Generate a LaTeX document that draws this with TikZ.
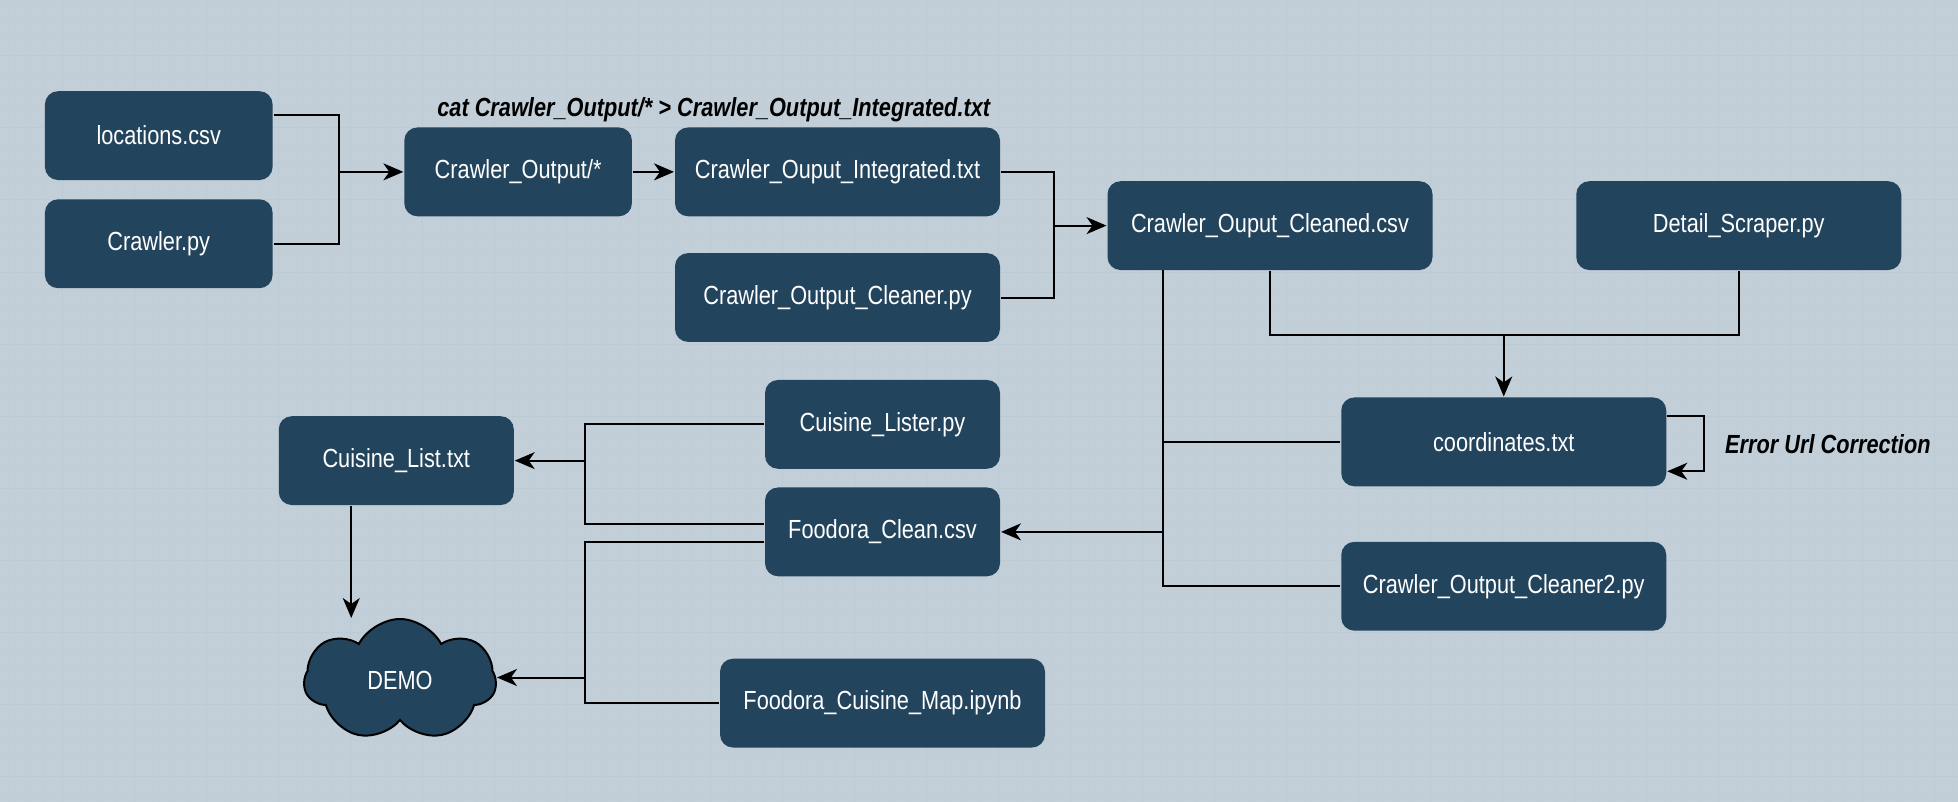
\documentclass[tikz,border=0pt]{standalone}
\usepackage{fontspec}
\setmainfont{Liberation Sans}
\newfontfamily\boxfont{Liberation Sans}[FakeStretch=0.83]
\usetikzlibrary{arrows.meta,shapes.symbols}

\definecolor{bgcol}{HTML}{C2CFD8}
\definecolor{gridminor}{HTML}{C0CDD6}
\definecolor{gridmajor}{HTML}{BCCAD3}
\definecolor{boxblue}{HTML}{23445D}

\tikzset{
  filebox/.style={fill=boxblue, rounded corners=6.5pt, text=white, inner sep=0pt,
    minimum height=44.4pt, font=\boxfont\fontsize{13.1}{15}\selectfont},
  narrow/.style={filebox, minimum width=113.8pt},
  mid/.style={filebox, minimum width=117.5pt},
  wide/.style={filebox, minimum width=162.5pt},
  arr/.style={-{Stealth[length=10pt,width=8.5pt,inset=3pt]}},
  note/.style={font=\bfseries\itshape\boxfont\fontsize{13.1}{15}\selectfont},
}

\begin{document}
\begin{tikzpicture}[x=0.625pt,y=-0.625pt,line width=1pt]
    % background and grid
    \fill[bgcol] (0,0) rectangle (1566.4,641.6);
    \useasboundingbox (0,0) rectangle (1566.4,641.6);
    \foreach \gx in {6.4,20.8,...,1567} \draw[gridminor,line width=0.5pt] (\gx,0) -- (\gx,641.6);
    \foreach \gy in {1.6,16,...,642} \draw[gridminor,line width=0.5pt] (0,\gy) -- (1566.4,\gy);
    \foreach \gx in {49.6,107.2,...,1567} \draw[gridmajor,line width=0.5pt] (\gx,0) -- (\gx,641.6);
    \foreach \gy in {44.8,102.4,...,642} \draw[gridmajor,line width=0.5pt] (0,\gy) -- (1566.4,\gy);

    % crawling
    \node[narrow] (loc) at (127,108.5) {locations.csv};
    \node[narrow] (crpy) at (127,195) {Crawler.py};
    \node[narrow] (crout) at (414.5,137.5) {Crawler\_Output/*};
    \node[wide] (integ) at (670,137.5) {Crawler\_Ouput\_Integrated.txt};
    \node[wide] (clnpy) at (670,238) {Crawler\_Output\_Cleaner.py};
    \node[note] (catlbl) at (571,88) {cat Crawler\_Output/* > Crawler\_Output\_Integrated.txt};

    % cleaning and scraping
    \node[wide] (clean) at (1016,180.5) {Crawler\_Ouput\_Cleaned.csv};
    \node[wide] (detail) at (1391,180.5) {Detail\_Scraper.py};
    \node[wide] (coord) at (1203,353.5) {coordinates.txt};
    \node[wide] (cln2) at (1203,469) {Crawler\_Output\_Cleaner2.py};
    \node[note, anchor=west] (errlbl) at (1374,355) {Error Url Correction};

    % cuisines and demo
    \node[mid] (clister) at (706,339.5) {Cuisine\_Lister.py};
    \node[mid] (fclean) at (706,425.5) {Foodora\_Clean.csv};
    \node[mid] (clist) at (317,368.5) {Cuisine\_List.txt};
    \node[wide] (fmap) at (706,562.5) {Foodora\_Cuisine\_Map.ipynb};
    \node[cloud, draw=black, fill=boxblue, text=white, cloud puffs=7, cloud puff arc=125,
      aspect=1.6, minimum width=96pt, minimum height=61pt, inner sep=0pt,
      font=\boxfont\fontsize{13.1}{15}\selectfont] (demo) at (320,544) {DEMO};

    % junctions
    \coordinate (j1) at (271,137.5);
    \coordinate (j2) at (843,180.5);
    \coordinate (j3) at (1203,268);
    \coordinate (t0) at (930,216);
    \coordinate (j4) at (468,368.5);
    \coordinate (j5) at (468,542);

    % connectors
    \draw ([yshift=10.3pt]loc.east) -| (j1);
    \draw (crpy.east) -| (j1);
    \draw[arr] (j1) -- (crout.west);
    \draw[arr] (crout.east) -- (integ.west);

    \draw (integ.east) -| (j2);
    \draw (clnpy.east) -| (j2);
    \draw[arr] (j2) -- (clean.west);

    \draw (clean.south) |- (j3) -| (detail.south);
    \draw[arr] (j3) -- (coord.north);

    \draw (t0) |- (cln2.west);
    \draw (t0 |- coord.west) -- (coord.west);
    \draw[arr] (t0 |- fclean.east) -- (fclean.east);
    \draw[arr] ([yshift=12.8pt]coord.east) -- ++(29,0) |- ([yshift=-14.7pt]coord.east);

    \draw (clister.west) -| (j4);
    \draw ([yshift=4pt]fclean.west) -| (j4);
    \draw[arr] (j4) -- (clist.east);

    \draw ([yshift=-5.3pt]fclean.west) -| (j5);
    \draw (fmap.west) -| (j5);
    \draw[arr] (j5) -- (demo.east |- j5);
    \draw[arr] ([xshift=-22.5pt]clist.south) -- ([xshift=-22.5pt]clist.south |- demo.north);
\end{tikzpicture}
\end{document}
